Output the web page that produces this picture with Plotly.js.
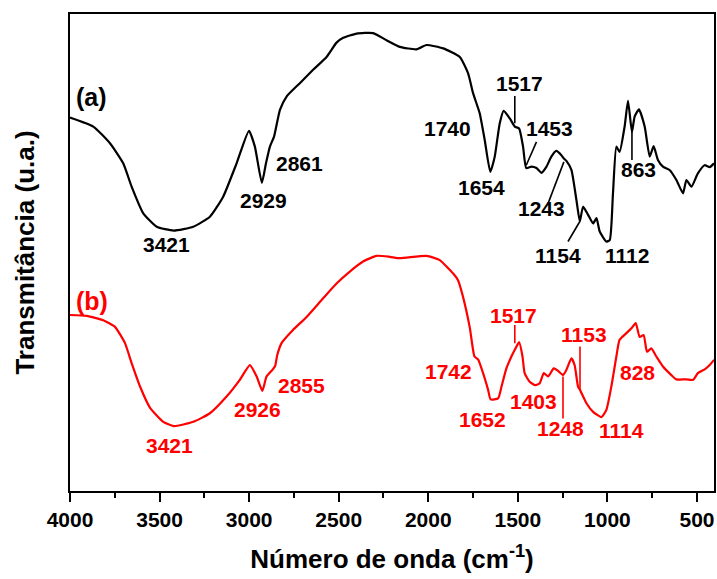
<!DOCTYPE html>
<html>
<head>
<meta charset="utf-8">
<script src="https://cdn.plot.ly/plotly-3.0.1.min.js"></script>
<style>
  html, body { margin: 0; padding: 0; background: #fff; }
  #chart { width: 717px; height: 579px; }
</style>
</head>
<body>
<div id="chart"></div>
<script>
// FTIR spectrum (a): wavenumber (cm-1) and transmittance (a.u.)
const wnA = [4000, 3870, 3777, 3703, 3656, 3591, 3516, 3421, 3312, 3219, 3145, 3070, 3001, 2968, 2929, 2906, 2884, 2861,
  2828, 2791, 2717, 2643, 2568, 2512, 2475, 2400, 2308, 2233, 2159, 2066, 2010, 1917, 1824, 1778, 1750, 1713, 1685,
  1654, 1629, 1601, 1579, 1545, 1517, 1493, 1471, 1453, 1424, 1396, 1368, 1340, 1313, 1285, 1257, 1243, 1229, 1201,
  1173, 1154, 1136, 1108, 1080, 1061, 1043, 1006, 987, 969, 950, 932, 904, 885, 863, 848, 824, 792, 764, 742, 718,
  690, 653, 615, 578, 559, 531, 495, 457, 429, 405];
const tA = [78.3, 76.4, 72.9, 68.7, 63.8, 58.2, 55.4, 54.6, 55.4, 57.5, 61.7, 68.7, 75.5, 72.2, 64.6, 68.7, 72.2, 74.3,
  79.9, 82.7, 85.5, 88.3, 91.0, 94.0, 95.0, 95.9, 96.0, 94.5, 93.1, 92.6, 93.5, 92.8, 91.0, 87.6, 83.4, 79.2, 73.6,
  66.9, 70.1, 77.1, 79.7, 78.1, 76.4, 76.0, 72.2, 67.7, 68.0, 67.7, 66.7, 68.0, 70.1, 71.3, 70.4, 69.7, 69.2, 67.3,
  61.0, 56.5, 59.6, 57.9, 56.1, 57.2, 54.4, 52.3, 52.6, 62.4, 72.2, 71.1, 76.4, 81.8, 75.3, 78.5, 80.0, 76.4, 70.1,
  72.3, 69.4, 68.0, 67.3, 65.2, 62.4, 65.2, 63.8, 66.6, 68.3, 67.9, 68.7];

// FTIR spectrum (b)
const wnB = [4000, 3907, 3814, 3749, 3693, 3656, 3609, 3554, 3479, 3421, 3312, 3219, 3126, 3052, 2996, 2958, 2926, 2903,
  2870, 2855, 2843, 2819, 2754, 2679, 2587, 2512, 2438, 2364, 2289, 2215, 2159, 2010, 1936, 1861, 1834, 1806, 1768,
  1742, 1722, 1694, 1666, 1652, 1610, 1591, 1564, 1536, 1517, 1493, 1474, 1462, 1434, 1403, 1378, 1355, 1331, 1300,
  1276, 1248, 1229, 1201, 1183, 1164, 1153, 1117, 1080, 1034, 1006, 978, 950, 932, 894, 866, 842, 820, 798, 779, 755,
  727, 690, 643, 615, 559, 522, 495, 457, 429, 405];
const tB = [36.9, 36.7, 35.8, 34.4, 31.0, 26.8, 21.9, 17.5, 14.5, 13.6, 14.5, 16.3, 19.8, 23.3, 26.4, 24.0, 21.0, 24.0,
  25.4, 26.2, 28.5, 31.0, 33.8, 36.5, 40.4, 43.5, 46.0, 48.1, 49.3, 49.1, 48.8, 49.3, 48.4, 45.6, 44.2, 40.7, 34.2,
  28.2, 27.6, 24.7, 21.2, 19.2, 19.4, 21.9, 25.7, 28.2, 29.6, 31.2, 28.2, 24.7, 22.9, 22.2, 22.6, 24.7, 24.0, 25.7,
  25.2, 24.3, 25.4, 27.8, 26.4, 21.9, 21.2, 18.4, 16.6, 15.5, 17.0, 21.9, 28.2, 31.7, 33.1, 34.1, 35.2, 32.3, 32.7,
  29.2, 29.9, 28.2, 26.1, 24.3, 23.4, 23.4, 23.3, 24.7, 25.5, 26.4, 27.5];

// Band labels
const bandsA = ['3421', '2929', '2861', '1740', '1517', '1453', '1654', '1243', '1154', '1112', '863'];
const bandsB = ['3421', '2926', '2855', '1742', '1517', '1153', '1403', '1652', '1248', '1114', '828'];

// Label anchor positions (wavenumber, transmittance)
const posA = [[3460, 51.6], [2919, 61.0], [2718, 68.7], [1891, 76.0], [1491, 85.5], [1325, 75.9],
  [1703, 63.6], [1367, 59.3], [1277, 49.3], [890, 49.3], [827, 67.5]];
const posB = [[3442, 9.6], [2953, 17.0], [2709, 22.2], [1888, 25.1], [1527, 36.8], [1128, 32.9],
  [1411, 18.7], [1699, 14.9], [1262, 13.1], [919, 12.7], [832, 24.9]];

// Leader lines: [x0, y0, x1, y1]; the end on the spectrum sits at the band value
const leadA = [[1517, 82.8, 1517, 77.1], [1396, 73.2, 1453, 68.3], [1243, 69.0, 1331, 60.3],
  [1154, 56.5, 1220, 52.3], [863, 75.7, 863, 69.4]];
const leadB = [[1517, 34.8, 1517, 31.0], [1248, 24.0, 1248, 15.2], [1153, 30.3, 1153, 21.2]];

const FONT = 'Liberation Sans, Arial, Helvetica, sans-serif';
const BLACK = '#000000';
const RED = '#ff0000';

const traces = [
  { x: wnA, y: tA, mode: 'lines', line: { color: BLACK, width: 2.2, shape: 'spline', smoothing: 0.5 }, hoverinfo: 'skip' },
  { x: wnB, y: tB, mode: 'lines', line: { color: RED, width: 2.2, shape: 'spline', smoothing: 0.5 }, hoverinfo: 'skip' }
];

function bandNotes(texts, pos, color) {
  return texts.map((t, i) => ({
    x: pos[i][0], y: pos[i][1], xref: 'x', yref: 'y', text: t, showarrow: false,
    xanchor: 'center', yanchor: 'middle',
    font: { family: FONT, size: 21, color: color, weight: 'bold' }
  }));
}

function leaders(list, color) {
  return list.map(s => ({
    type: 'line', xref: 'x', yref: 'y', x0: s[0], y0: s[1], x1: s[2], y1: s[3],
    line: { color: color, width: 1.6 }
  }));
}

const annotations = [
  ...bandNotes(bandsA, posA, BLACK),
  ...bandNotes(bandsB, posB, RED),
  { x: 3879, y: 82.6, xref: 'x', yref: 'y', text: '(a)', showarrow: false, xanchor: 'center', yanchor: 'middle',
    font: { family: FONT, size: 25, color: BLACK, weight: 'bold' } },
  { x: 3879, y: 39.8, xref: 'x', yref: 'y', text: '(b)', showarrow: false, xanchor: 'center', yanchor: 'middle',
    font: { family: FONT, size: 25, color: RED, weight: 'bold' } }
];

const layout = {
  width: 717, height: 579,
  margin: { l: 70, r: 3, t: 14, b: 88 },
  paper_bgcolor: '#ffffff', plot_bgcolor: '#ffffff',
  showlegend: false,
  font: { family: FONT, color: BLACK },
  xaxis: {
    range: [4000, 405],
    tickmode: 'linear', tick0: 0, dtick: 500,
    ticks: 'outside', ticklen: 9, tickwidth: 2, tickcolor: BLACK,
    minor: { ticks: 'outside', ticklen: 5, tickwidth: 2, tickcolor: BLACK, dtick: 250, tick0: 0, showgrid: false },
    showline: true, linewidth: 2, linecolor: BLACK, mirror: true,
    showgrid: false, zeroline: false,
    tickfont: { family: FONT, size: 21, color: BLACK, weight: 'bold' },
    title: { text: 'Número de onda (cm<sup>-1</sup>)', standoff: 20,
      font: { family: FONT, size: 26, color: BLACK, weight: 'bold' } }
  },
  yaxis: {
    range: [0, 100],
    showticklabels: false, ticks: '',
    showline: true, linewidth: 2, linecolor: BLACK, mirror: true,
    showgrid: false, zeroline: false,
    title: { text: 'Transmitância (u.a.)', standoff: 26,
      font: { family: FONT, size: 26, color: BLACK, weight: 'bold' } }
  },
  annotations: annotations,
  shapes: [...leaders(leadA, BLACK), ...leaders(leadB, RED)]
};

Plotly.newPlot('chart', traces, layout, { displayModeBar: false, staticPlot: true });
</script>
</body>
</html>
